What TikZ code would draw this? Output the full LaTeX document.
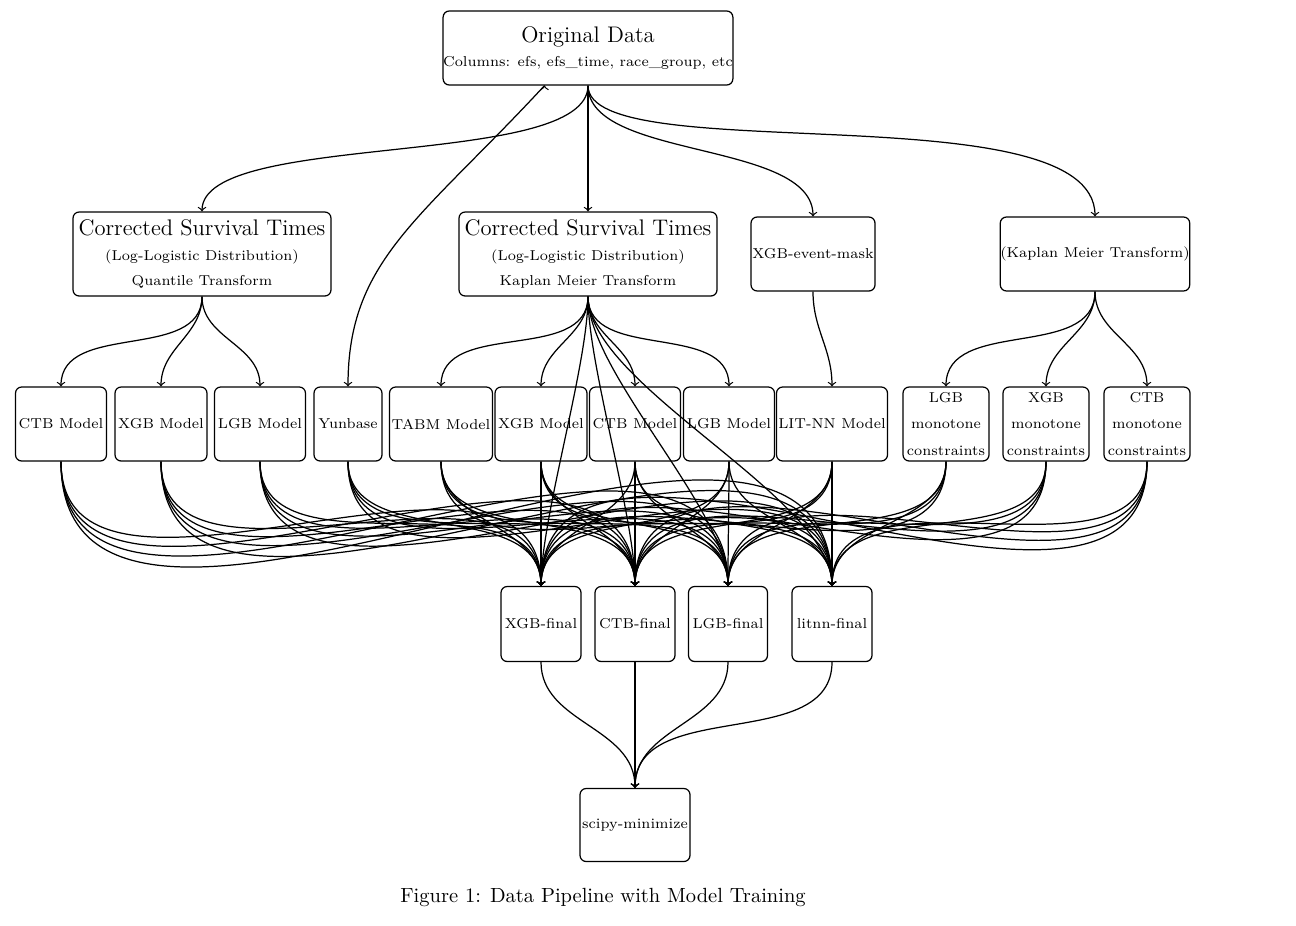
\documentclass[tikz,border=0pt]{standalone}
\begin{document}
\begin{tikzpicture}[x=0.4878pt,y=-0.4878pt,
 box/.style={draw,semithick,rounded corners=3pt,align=center,inner sep=0pt,font=\scriptsize},
 e/.style={semithick,->,>=to},
 f/.style={semithick,->,>=to,out=-90,in=90}]
\useasboundingbox (0,0) rectangle (1296,926);
\newcommand\bx[6]{\node[box,minimum width=#4*0.4878pt,minimum height=#5*0.4878pt] (#1) at (#2,#3) {#6};}
\bx{orig}{588}{48}{268}{74}{{\fontsize{11}{13}\selectfont Original Data}\\[4pt]Columns: efs, efs\_time, race\_group, etc}
\bx{cstA}{202}{254}{258}{84}{{\fontsize{11}{13}\selectfont Corrected Survival Times}\\[4pt](Log-Logistic Distribution)\\[4pt]Quantile Transform}
\bx{cstB}{588}{254}{258}{84}{{\fontsize{11}{13}\selectfont Corrected Survival Times}\\[4pt](Log-Logistic Distribution)\\[4pt]Kaplan Meier Transform}
\bx{mask}{813}{254}{124}{74}{XGB-event-mask}
\bx{km}{1095}{254}{187}{74}{(Kaplan Meier Transform)}
\bx{ctbA}{61}{424}{91}{74}{CTB Model}
\bx{xgbA}{161}{424}{92}{74}{XGB Model}
\bx{lgbA}{260}{424}{91}{74}{LGB Model}
\bx{yun}{348}{424}{68}{74}{Yunbase}
\bx{tabm}{441}{424}{103}{74}{TABM Model}
\bx{xgbB}{541}{424}{92}{74}{XGB Model}
\bx{ctbB}{635}{424}{91}{74}{CTB Model}
\bx{lgbB}{729}{424}{91}{74}{LGB Model}
\bx{lit}{832}{424}{111}{74}{LIT-NN Model}
\bx{lgbM}{946}{424}{86}{74}{LGB\\[5pt]monotone\\[5pt]constraints}
\bx{xgbM}{1046}{424}{86}{74}{XGB\\[5pt]monotone\\[5pt]constraints}
\bx{ctbM}{1147}{424}{86}{74}{CTB\\[5pt]monotone\\[5pt]constraints}
\bx{xgbF}{541}{624}{80}{75}{XGB-final}
\bx{ctbF}{635}{624}{80}{75}{CTB-final}
\bx{lgbF}{728}{624}{79}{75}{LGB-final}
\bx{litF}{832}{624}{80}{75}{litnn-final}
\bx{sci}{635}{825}{110}{73}{scipy-minimize}
\node[font=\normalsize] (cap) at (603,897) {Figure 1: Data Pipeline with Model Training};
\draw[e] (orig.south) .. controls (588,170) and (202,130) .. (cstA.north);
\draw[e] (orig.south) -- (cstB.north);
\draw[e] (orig.south) .. controls (588,160) and (813,140) .. (mask.north);
\draw[e] (orig.south) .. controls (588,170) and (1095,90) .. (km.north);
\draw[e] (orig.south west) ++(102,0) coordinate (o1);
\draw[e] (o1) .. controls (420,220) and (348,260) .. (yun.north);
\foreach \t in {ctbA,xgbA,lgbA} \draw[f] (cstA.south) to (\t.north);
\foreach \t in {tabm,xgbB,ctbB,lgbB} \draw[f] (cstB.south) to (\t.north);
\foreach \t in {xgbF,ctbF,lgbF,litF} \draw[f,looseness=0.6] (cstB.south) to (\t.north);
\draw[f] (mask.south) to (lit.north);
\foreach \t in {lgbM,xgbM,ctbM} \draw[f] (km.south) to (\t.north);
\foreach \s in {ctbA,xgbA,lgbA,yun,tabm,xgbB,ctbB,lgbB,lit,lgbM,xgbM,ctbM}
  \foreach \t in {xgbF,ctbF,lgbF,litF} \draw[f] (\s.south) to (\t.north);
\foreach \s in {xgbF,ctbF,lgbF,litF} \draw[f] (\s.south) to (sci.north);
\end{tikzpicture}
\end{document}
